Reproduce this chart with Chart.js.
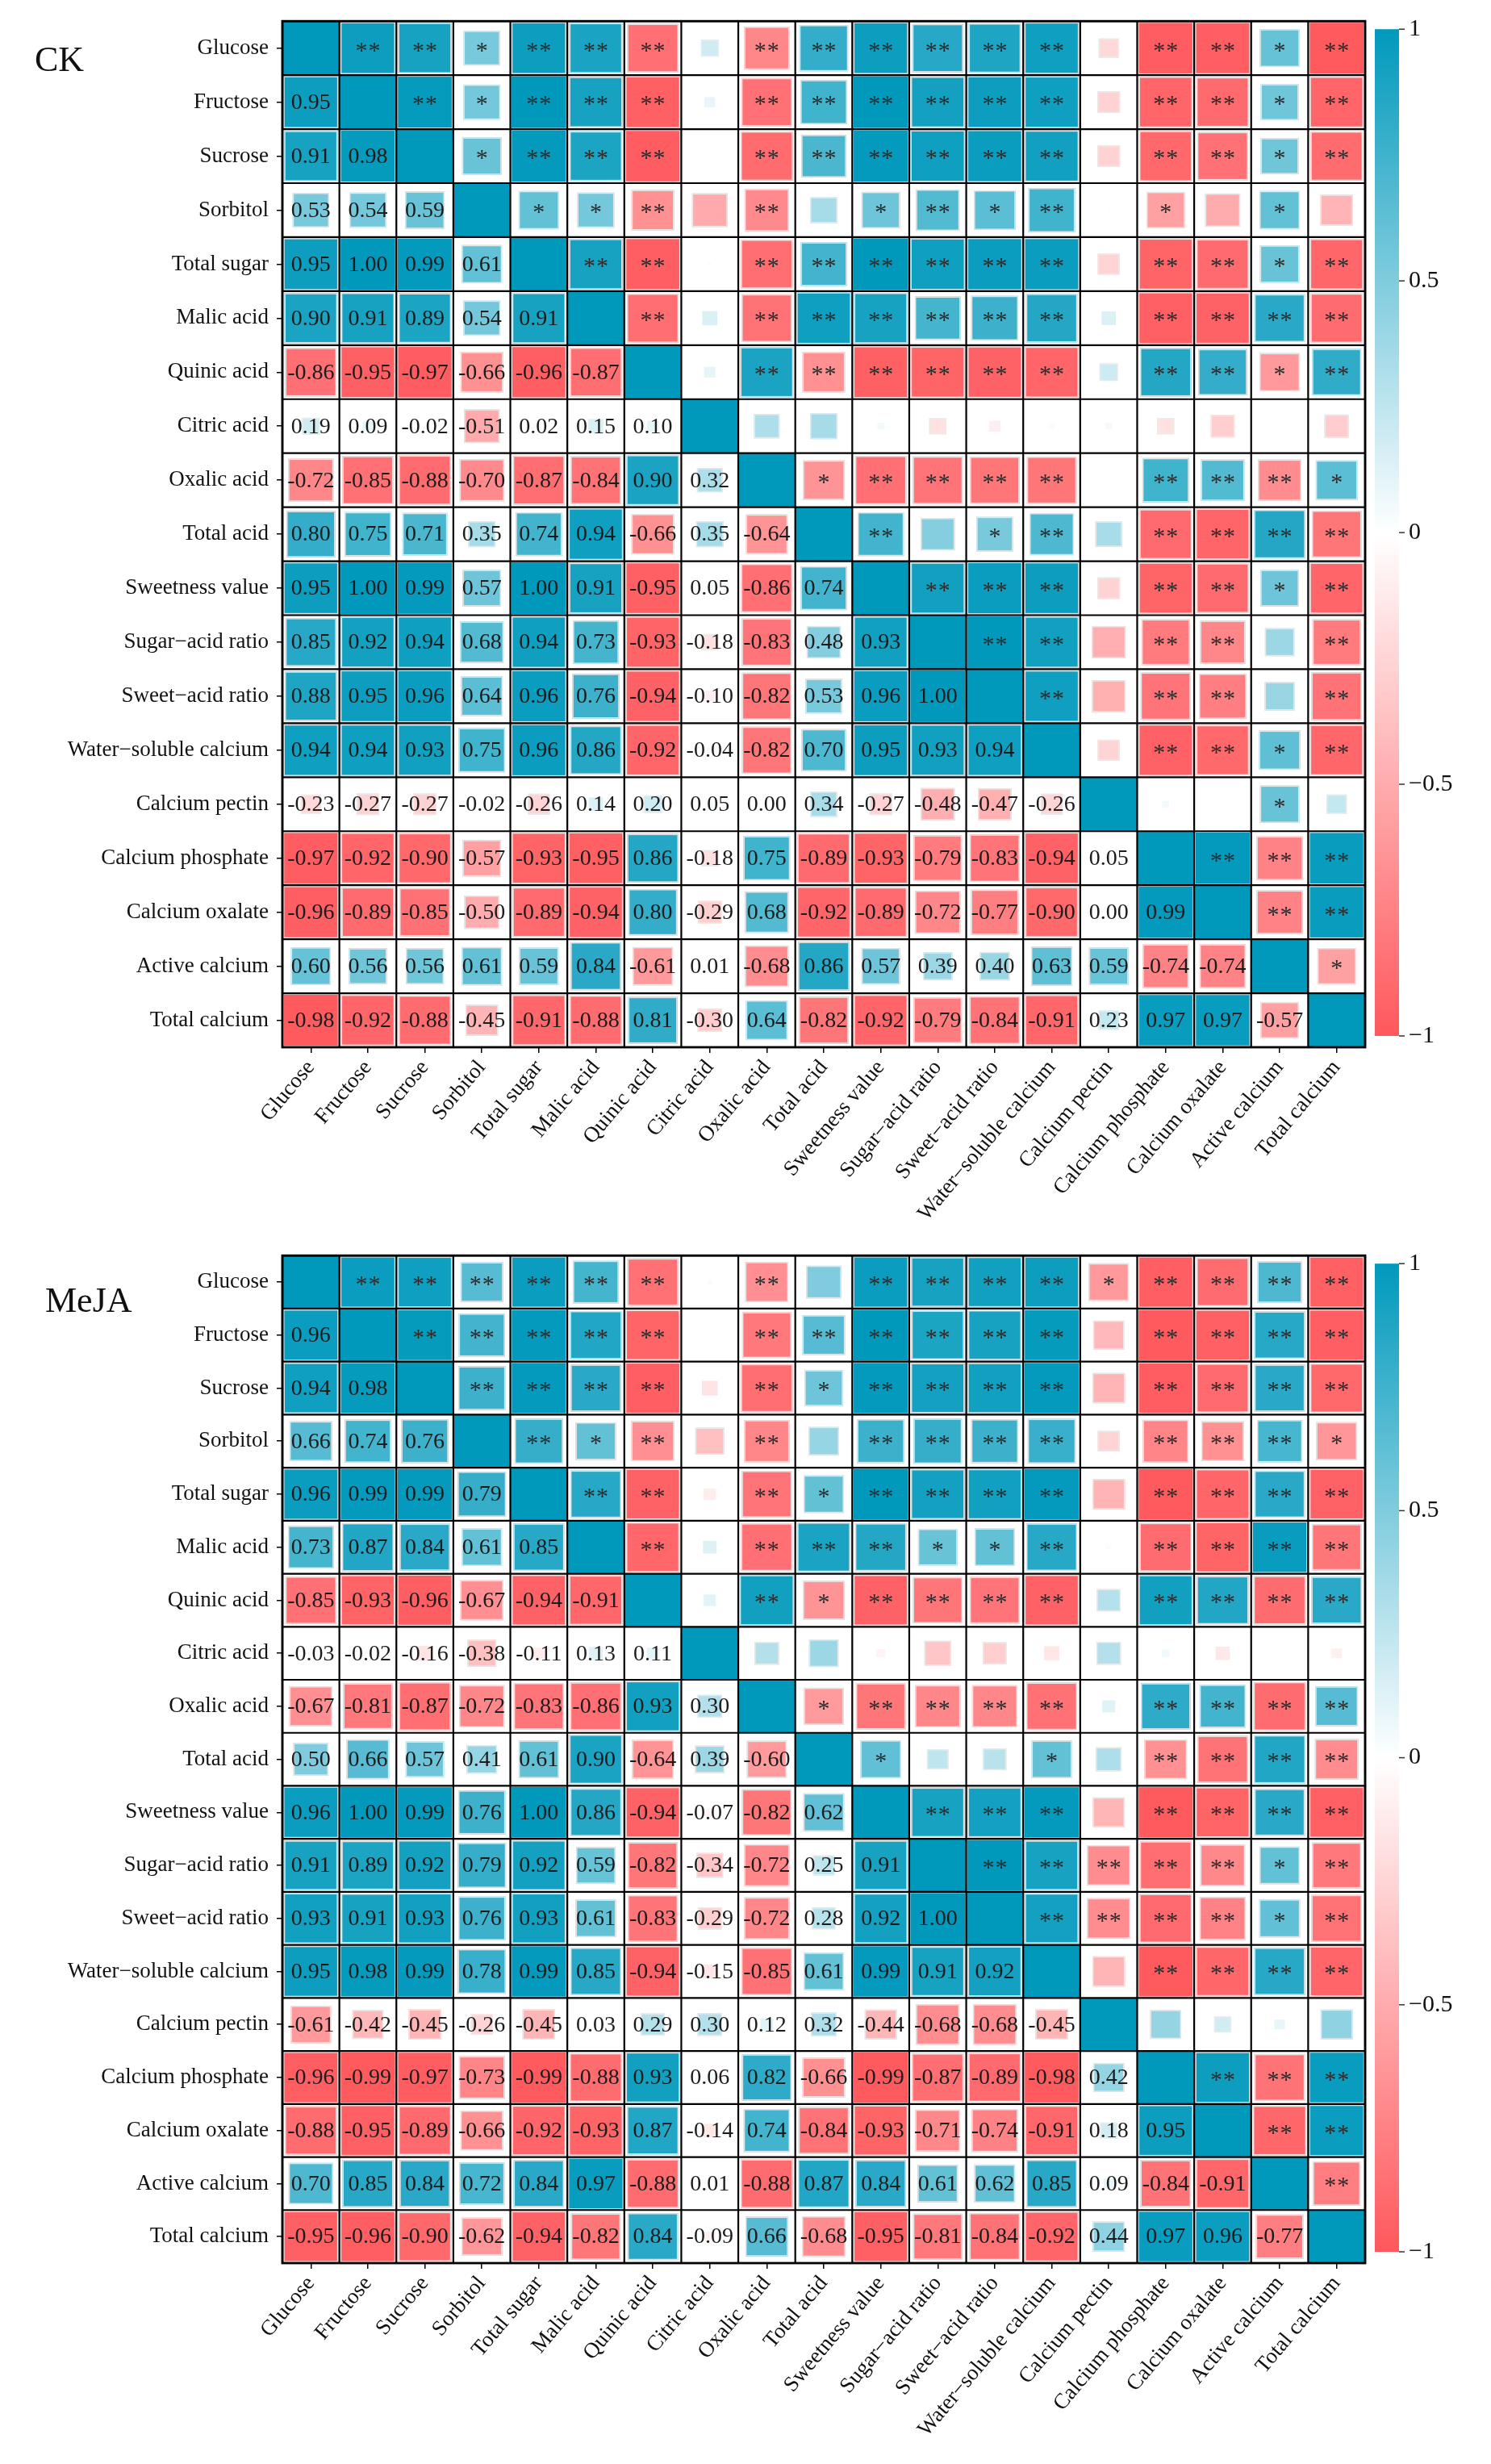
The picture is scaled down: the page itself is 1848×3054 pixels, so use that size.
<!DOCTYPE html>
<html>
<head>
<meta charset="utf-8">
<script src="https://cdn.jsdelivr.net/npm/chart.js@4.4.1/dist/chart.umd.min.js"></script>
<style>
html,body{margin:0;padding:0;background:#fff;}
#wrap{position:relative;width:1848px;height:3054px;background:#fff;overflow:hidden;}
.box{position:absolute;left:0;width:1848px;}
#c1box{top:0;height:1530px;}
#c2box{top:1530px;height:1524px;}
.tag{position:absolute;font-family:"Liberation Serif",serif;font-size:44px;line-height:1;color:#111;}
</style>
</head>
<body>
<div id="wrap">
  <div class="box" id="c1box"><canvas id="c1" width="1848" height="1530"></canvas></div>
  <div class="box" id="c2box"><canvas id="c2" width="1848" height="1524"></canvas></div>
  <div class="tag" style="left:43px;top:52px">CK</div>
  <div class="tag" style="left:56px;top:1590px">MeJA</div>
</div>
<script>
// ---------- data ----------
const rowLabels = ["Glucose","Fructose","Sucrose","Sorbitol","Total sugar","Malic acid","Quinic acid","Citric acid","Oxalic acid","Total acid","Sweetness value","Sugar\u2212acid ratio","Sweet\u2212acid ratio","Water\u2212soluble calcium","Calcium pectin","Calcium phosphate","Calcium oxalate","Active calcium","Total calcium"];
const colorbarTicks = [1, 0.5, 0, -0.5, -1];
const colorbarTickLabels = ["1", "0.5", "0", "\u22120.5", "\u22121"];
const panelTitles = ["CK", "MeJA"];

// lower triangle correlations (row i, columns 0..i-1)
const ckLower = [
  [],
  [0.95],
  [0.91, 0.98],
  [0.53, 0.54, 0.59],
  [0.95, 1.00, 0.99, 0.61],
  [0.90, 0.91, 0.89, 0.54, 0.91],
  [-0.86, -0.95, -0.97, -0.66, -0.96, -0.87],
  [0.19, 0.09, -0.02, -0.51, 0.02, 0.15, 0.10],
  [-0.72, -0.85, -0.88, -0.70, -0.87, -0.84, 0.90, 0.32],
  [0.80, 0.75, 0.71, 0.35, 0.74, 0.94, -0.66, 0.35, -0.64],
  [0.95, 1.00, 0.99, 0.57, 1.00, 0.91, -0.95, 0.05, -0.86, 0.74],
  [0.85, 0.92, 0.94, 0.68, 0.94, 0.73, -0.93, -0.18, -0.83, 0.48, 0.93],
  [0.88, 0.95, 0.96, 0.64, 0.96, 0.76, -0.94, -0.10, -0.82, 0.53, 0.96, 1.00],
  [0.94, 0.94, 0.93, 0.75, 0.96, 0.86, -0.92, -0.04, -0.82, 0.70, 0.95, 0.93, 0.94],
  [-0.23, -0.27, -0.27, -0.02, -0.26, 0.14, 0.20, 0.05, 0.00, 0.34, -0.27, -0.48, -0.47, -0.26],
  [-0.97, -0.92, -0.90, -0.57, -0.93, -0.95, 0.86, -0.18, 0.75, -0.89, -0.93, -0.79, -0.83, -0.94, 0.05],
  [-0.96, -0.89, -0.85, -0.50, -0.89, -0.94, 0.80, -0.29, 0.68, -0.92, -0.89, -0.72, -0.77, -0.90, 0.00, 0.99],
  [0.60, 0.56, 0.56, 0.61, 0.59, 0.84, -0.61, 0.01, -0.68, 0.86, 0.57, 0.39, 0.40, 0.63, 0.59, -0.74, -0.74],
  [-0.98, -0.92, -0.88, -0.45, -0.91, -0.88, 0.81, -0.30, 0.64, -0.82, -0.92, -0.79, -0.84, -0.91, 0.23, 0.97, 0.97, -0.57]
];
// significance marks, upper triangle (row i, columns i+1..18)
const ckStars = [
  ["**","**","*","**","**","**","","**","**","**","**","**","**","","**","**","*","**"],
  ["**","*","**","**","**","","**","**","**","**","**","**","","**","**","*","**"],
  ["*","**","**","**","","**","**","**","**","**","**","","**","**","*","**"],
  ["*","*","**","","**","","*","**","*","**","","*","","*",""],
  ["**","**","","**","**","**","**","**","**","","**","**","*","**"],
  ["**","","**","**","**","**","**","**","","**","**","**","**"],
  ["","**","**","**","**","**","**","","**","**","*","**"],
  ["","","","","","","","","","",""],
  ["*","**","**","**","**","","**","**","**","*"],
  ["**","","*","**","","**","**","**","**"],
  ["**","**","**","","**","**","*","**"],
  ["**","**","","**","**","","**"],
  ["**","","**","**","","**"],
  ["","**","**","*","**"],
  ["","","*",""],
  ["**","**","**"],
  ["**","**"],
  ["*"],
  []
];

const mejaLower = [
  [],
  [0.96],
  [0.94, 0.98],
  [0.66, 0.74, 0.76],
  [0.96, 0.99, 0.99, 0.79],
  [0.73, 0.87, 0.84, 0.61, 0.85],
  [-0.85, -0.93, -0.96, -0.67, -0.94, -0.91],
  [-0.03, -0.02, -0.16, -0.38, -0.11, 0.13, 0.11],
  [-0.67, -0.81, -0.87, -0.72, -0.83, -0.86, 0.93, 0.30],
  [0.50, 0.66, 0.57, 0.41, 0.61, 0.90, -0.64, 0.39, -0.60],
  [0.96, 1.00, 0.99, 0.76, 1.00, 0.86, -0.94, -0.07, -0.82, 0.62],
  [0.91, 0.89, 0.92, 0.79, 0.92, 0.59, -0.82, -0.34, -0.72, 0.25, 0.91],
  [0.93, 0.91, 0.93, 0.76, 0.93, 0.61, -0.83, -0.29, -0.72, 0.28, 0.92, 1.00],
  [0.95, 0.98, 0.99, 0.78, 0.99, 0.85, -0.94, -0.15, -0.85, 0.61, 0.99, 0.91, 0.92],
  [-0.61, -0.42, -0.45, -0.26, -0.45, 0.03, 0.29, 0.30, 0.12, 0.32, -0.44, -0.68, -0.68, -0.45],
  [-0.96, -0.99, -0.97, -0.73, -0.99, -0.88, 0.93, 0.06, 0.82, -0.66, -0.99, -0.87, -0.89, -0.98, 0.42],
  [-0.88, -0.95, -0.89, -0.66, -0.92, -0.93, 0.87, -0.14, 0.74, -0.84, -0.93, -0.71, -0.74, -0.91, 0.18, 0.95],
  [0.70, 0.85, 0.84, 0.72, 0.84, 0.97, -0.88, 0.01, -0.88, 0.87, 0.84, 0.61, 0.62, 0.85, 0.09, -0.84, -0.91],
  [-0.95, -0.96, -0.90, -0.62, -0.94, -0.82, 0.84, -0.09, 0.66, -0.68, -0.95, -0.81, -0.84, -0.92, 0.44, 0.97, 0.96, -0.77]
];
const mejaStars = [
  ["**","**","**","**","**","**","","**","","**","**","**","**","*","**","**","**","**"],
  ["**","**","**","**","**","","**","**","**","**","**","**","","**","**","**","**"],
  ["**","**","**","**","","**","*","**","**","**","**","","**","**","**","**"],
  ["**","*","**","","**","","**","**","**","**","","**","**","**","*"],
  ["**","**","","**","*","**","**","**","**","","**","**","**","**"],
  ["**","","**","**","**","*","*","**","","**","**","**","**"],
  ["","**","*","**","**","**","**","","**","**","**","**"],
  ["","","","","","","","","","",""],
  ["*","**","**","**","**","","**","**","**","**"],
  ["*","","","*","","**","**","**","**"],
  ["**","**","**","","**","**","**","**"],
  ["**","**","**","**","**","*","**"],
  ["**","**","**","**","*","**"],
  ["","**","**","**","**"],
  ["","","",""],
  ["**","**","**"],
  ["**","**"],
  ["**"],
  []
];

// ---------- helpers ----------
const POS = [0, 153, 188];
const NEG = [255, 88, 92];
function heatColor(v) {
  const a = Math.min(1, Math.abs(v));
  const c = v >= 0 ? POS : NEG;
  const m = k => Math.round(255 + (c[k] - 255) * a);
  return `rgb(${m(0)},${m(1)},${m(2)})`;
}

function buildPoints(lower, stars) {
  const pts = [];
  const n = rowLabels.length;
  for (let i = 0; i < n; i++) {
    for (let j = 0; j < n; j++) {
      const p = { x: rowLabels[j], y: rowLabels[i] };
      if (i === j) { p.v = 1; p.kind = 'diag'; }
      else if (j < i) { p.v = lower[i][j]; p.kind = 'low'; }
      else { p.v = lower[j][i]; p.kind = 'up'; p.s = stars[i][j - i - 1]; }
      pts.push(p);
    }
  }
  return pts;
}

const FONT = '"Liberation Serif", "Times New Roman", serif';

const heatPlugin = {
  id: 'heat',
  afterDatasetsDraw(chart) {
    const { ctx, scales: { x, y }, chartArea: ca } = chart;
    const n = rowLabels.length;
    const cw = x.getPixelForValue(1) - x.getPixelForValue(0);
    const ch = y.getPixelForValue(1) - y.getPixelForValue(0);
    const meta = chart.getDatasetMeta(0);
    const data = chart.data.datasets[0].data;
    ctx.save();
    meta.data.forEach((el, k) => {
      const d = data[k];
      const cx = el.x, cy = el.y;
      ctx.fillStyle = heatColor(d.v);
      if (d.kind === 'diag') { ctx.fillRect(cx - cw / 2, cy - ch / 2, cw, ch); return; }
      const f = Math.pow(Math.abs(d.v), 0.7);
      const w = cw * f, h = ch * f;
      if (w < 0.5) return;
      ctx.fillRect(cx - w / 2, cy - h / 2, w, h);
      if (f > 0.3) {
        ctx.strokeStyle = 'rgba(235,235,235,0.9)';
        ctx.lineWidth = 1.5;
        ctx.strokeRect(cx - w / 2 + 0.75, cy - h / 2 + 0.75, w - 1.5, h - 1.5);
      }
    });
    ctx.textAlign = 'center';
    ctx.textBaseline = 'middle';
    meta.data.forEach((el, k) => {
      const d = data[k];
      if (d.kind === 'low') {
        ctx.font = '28px ' + FONT;
        ctx.fillStyle = '#1c1c1c';
        ctx.fillText(d.v.toFixed(2), el.x, el.y + 1);
      } else if (d.kind === 'up' && d.s) {
        ctx.font = '30px ' + FONT;
        ctx.fillStyle = '#2b2b2b';
        if (d.s === '**') {
          ctx.fillText('*', el.x - 8, el.y + 4);
          ctx.fillText('*', el.x + 8, el.y + 4);
        } else {
          ctx.fillText('*', el.x, el.y + 4);
        }
      }
    });
    // cell borders
    ctx.strokeStyle = '#000';
    ctx.lineWidth = 2.2;
    ctx.beginPath();
    for (let i = 0; i <= n; i++) {
      const px = x.getPixelForValue(i) - cw / 2;
      ctx.moveTo(px, ca.top); ctx.lineTo(px, ca.bottom);
      const py = y.getPixelForValue(i) - ch / 2;
      ctx.moveTo(ca.left, py); ctx.lineTo(ca.right, py);
    }
    ctx.stroke();
    ctx.lineWidth = 2.8;
    ctx.strokeRect(ca.left, ca.top, ca.right - ca.left, ca.bottom - ca.top);
    ctx.restore();
  },
  afterDraw(chart) {
    const { ctx, chartArea: ca } = chart;
    const bx = ca.right + 12, bw = 30, top = ca.top + 10, bot = ca.bottom - 14;
    ctx.save();
    const g = ctx.createLinearGradient(0, top, 0, bot);
    g.addColorStop(0, heatColor(1));
    g.addColorStop(0.5, heatColor(0));
    g.addColorStop(1, heatColor(-1));
    ctx.fillStyle = g;
    ctx.fillRect(bx, top, bw, bot - top);
    ctx.strokeStyle = '#333';
    ctx.lineWidth = 1.5;
    ctx.fillStyle = '#111';
    ctx.font = '30px ' + FONT;
    ctx.textAlign = 'left';
    ctx.textBaseline = 'middle';
    colorbarTicks.forEach((t, i) => {
      const py = top + (1 - t) / 2 * (bot - top);
      ctx.beginPath();
      ctx.moveTo(bx + bw, py); ctx.lineTo(bx + bw + 7, py);
      ctx.stroke();
      ctx.fillText(colorbarTickLabels[i], bx + bw + 12, py);
    });
    ctx.restore();
  }
};

function makeChart(id, lower, stars, padTop, xHeight) {
  const ctx = document.getElementById(id);
  return new Chart(ctx, {
    type: 'scatter',
    data: {
      datasets: [{
        data: buildPoints(lower, stars),
        pointRadius: 0,
        pointHoverRadius: 0,
        showLine: false
      }]
    },
    options: {
      responsive: false,
      animation: false,
      devicePixelRatio: 1,
      events: [],
      layout: { padding: { top: padTop, right: 156, left: 0, bottom: 0 } },
      plugins: { legend: { display: false }, tooltip: { enabled: false }, title: { display: false } },
      scales: {
        x: {
          type: 'category',
          labels: rowLabels,
          offset: true,
          position: 'bottom',
          grid: { display: true, drawOnChartArea: false, drawTicks: true, tickLength: 7, color: '#000', lineWidth: 1.5, offset: false },
          border: { display: false },
          ticks: { autoSkip: false, maxRotation: 50, minRotation: 50, padding: 3, color: '#111', font: { family: FONT, size: 27 } },
          afterFit: s => { s.height = xHeight; }
        },
        y: {
          type: 'category',
          labels: rowLabels,
          offset: true,
          position: 'left',
          grid: { display: true, drawOnChartArea: false, drawTicks: true, tickLength: 7, color: '#000', lineWidth: 1.5, offset: false },
          border: { display: false },
          ticks: { autoSkip: false, padding: 10, color: '#111', font: { family: FONT, size: 27 } },
          afterFit: s => { s.width = 350; }
        }
      }
    },
    plugins: [heatPlugin]
  });
}

makeChart('c1', ckLower, ckStars, 24, 232);
makeChart('c2', mejaLower, mejaStars, 18, 249);
</script>
</body>
</html>
